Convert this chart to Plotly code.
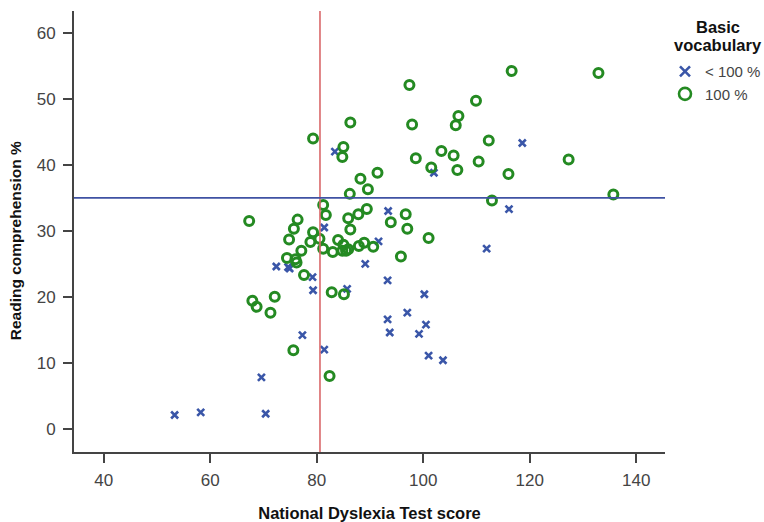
import plotly.graph_objects as go

# < 100 % basic vocabulary (blue crosses)
low_x = [83.4, 81.4, 91.6, 118.6, 102.0, 116.1, 93.4, 111.9, 93.3, 100.2,
         97.0, 93.3, 100.5, 93.7, 99.2, 101.0, 103.7, 72.4, 74.6, 74.9,
         79.2, 79.3, 77.3, 81.4, 69.6, 53.3, 58.2, 70.4, 85.7, 89.1]
low_y = [42.0, 30.5, 28.4, 43.3, 38.8, 33.3, 33.0, 27.3, 22.5, 20.4,
         17.6, 16.6, 15.8, 14.6, 14.4, 11.1, 10.4, 24.6, 24.5, 24.3,
         23.0, 21.0, 14.2, 12.0, 7.8, 2.1, 2.5, 2.3, 21.2, 25.0]

# 100 % basic vocabulary (green circles)
full_x = [79.3, 86.3, 85.0, 84.8, 91.4, 88.2, 89.6, 86.2, 81.2, 81.7,
          89.4, 87.8, 85.9, 86.3, 67.3, 76.4, 75.7, 74.8, 79.3, 78.8,
          80.5, 77.1, 81.2, 84.0, 85.0, 83.0, 84.8, 85.5, 85.9, 87.9,
          88.9, 90.6, 74.4, 76.0, 76.2, 77.6, 67.9, 68.7, 72.1, 71.3,
          75.6, 82.4, 82.8, 85.1, 116.6, 132.9, 97.4, 109.9, 106.6, 106.1,
          97.9, 112.3, 103.4, 105.7, 98.6, 110.4, 127.3, 101.5, 106.4, 116.0,
          135.7, 112.9, 96.7, 93.9, 97.0, 101.0, 95.8]
full_y = [44.0, 46.4, 42.7, 41.2, 38.8, 37.9, 36.3, 35.6, 33.9, 32.4,
          33.3, 32.5, 31.9, 30.2, 31.5, 31.7, 30.3, 28.7, 29.8, 28.3,
          28.8, 27.0, 27.3, 28.6, 27.9, 26.8, 27.0, 27.0, 27.2, 27.7,
          28.2, 27.6, 25.9, 25.7, 25.2, 23.3, 19.4, 18.5, 20.0, 17.6,
          11.9, 8.0, 20.7, 20.4, 54.2, 53.9, 52.1, 49.7, 47.4, 46.0,
          46.1, 43.7, 42.1, 41.4, 41.0, 40.5, 40.8, 39.6, 39.2, 38.6,
          35.5, 34.6, 32.5, 31.3, 30.3, 28.9, 26.1]

x_ticks = [40, 60, 80, 100, 120, 140]
y_ticks = [0, 10, 20, 30, 40, 50, 60]
x_ref = 80.6   # vertical reference line
y_ref = 35.0   # horizontal reference line
legend_title = ["Basic", "vocabulary"]
x_title = "National Dyslexia Test score"
y_title = "Reading comprehension %"

BLUE = "#3A56A8"
GREEN = "#248A22"
FONT = "Liberation Sans, Arial, sans-serif"

fig = go.Figure()
fig.add_trace(go.Scatter(
    x=low_x, y=low_y, mode="markers", showlegend=False,
    marker=dict(symbol="x-thin-open", size=7, color=BLUE,
                line=dict(color=BLUE, width=2.6))))
fig.add_trace(go.Scatter(
    x=full_x, y=full_y, mode="markers", showlegend=False,
    marker=dict(symbol="circle-open", size=9, color=GREEN,
                line=dict(color=GREEN, width=3))))
# legend entries
fig.add_trace(go.Scatter(
    x=[None], y=[None], mode="markers", name="< 100 %",
    marker=dict(symbol="x-thin-open", size=10, color=BLUE,
                line=dict(color=BLUE, width=2.6))))
fig.add_trace(go.Scatter(
    x=[None], y=[None], mode="markers", name="100 %",
    marker=dict(symbol="circle-open", size=12, color=GREEN,
                line=dict(color=GREEN, width=2.6))))

fig.add_shape(type="line", xref="x", yref="paper", x0=x_ref, x1=x_ref,
              y0=0, y1=1, line=dict(color="#D9686A", width=1.6))
fig.add_shape(type="line", xref="paper", yref="y", x0=0, x1=1,
              y0=y_ref, y1=y_ref, line=dict(color="#3F52A3", width=1.6))

# legend title as two text lines (tighter line spacing)
for i, line in enumerate(legend_title):
    fig.add_annotation(text="<b>" + line + "</b>", xref="paper", yref="paper",
                       x=1.0897, y=0.964 - i * 0.041, xanchor="center",
                       yanchor="middle", showarrow=False,
                       font=dict(size=16.5, color="#111111", family=FONT))

# y-axis title (placed slightly below the plot centre, as in the original)
fig.add_annotation(text="<b>" + y_title + "</b>", xref="paper", yref="paper",
                   x=-0.0998, y=0.478, xanchor="center", yanchor="middle",
                   textangle=-90, showarrow=False,
                   font=dict(size=15.5, color="#111111", family=FONT))

fig.update_layout(
    width=764, height=522,
    margin=dict(l=74, r=99, t=11, b=70, autoexpand=False),
    paper_bgcolor="white", plot_bgcolor="white",
    font=dict(family=FONT, color="#333333"),
    xaxis=dict(range=[34.4, 145.4], tickvals=x_ticks, showgrid=False,
               zeroline=False, showline=True, linecolor="#444444",
               linewidth=2, ticks="outside", ticklen=9, tickwidth=1.5,
               tickcolor="#444444", tickfont=dict(size=17, color="#444444"),
               ticklabelstandoff=3, automargin=False,
               title=dict(text="<b>" + x_title + "</b>",
                          font=dict(size=16.5, color="#111111"), standoff=21)),
    yaxis=dict(range=[-3.5, 63.3], tickvals=y_ticks, showgrid=False,
               zeroline=False, showline=True, linecolor="#444444",
               linewidth=2, ticks="outside", ticklen=9, tickwidth=1.5,
               tickcolor="#444444", tickfont=dict(size=17, color="#444444"),
               ticklabelstandoff=4, automargin=False),
    legend=dict(x=1.0, xanchor="left", y=0.90, yanchor="top",
                font=dict(size=15, color="#444444"),
                itemwidth=30, tracegroupgap=0, bgcolor="rgba(0,0,0,0)"),
)

fig.write_html("out.html", config={"displayModeBar": False},
               post_script="document.body.style.margin='0';"
                           "document.body.style.overflow='hidden';")
